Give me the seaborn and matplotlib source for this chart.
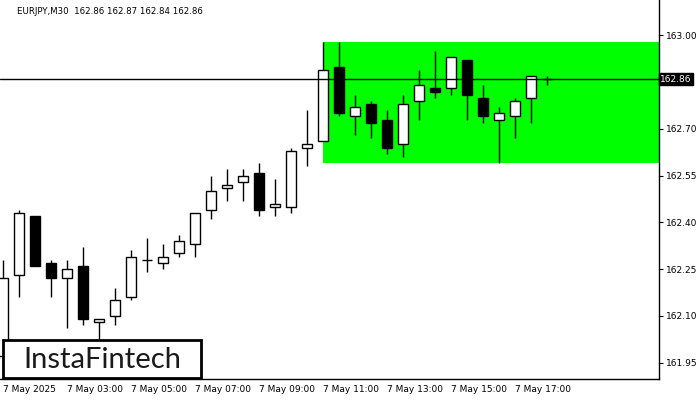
import matplotlib
matplotlib.use("Agg")
import matplotlib.pyplot as plt
from matplotlib.patches import Rectangle
import seaborn as sns
import pandas as pd

# Kerzen EURJPY M30
opens = [161.97, 162.23, 162.42, 162.27, 162.22, 162.26, 162.08, 162.10, 162.16, 162.28,
         162.27, 162.30, 162.33, 162.44, 162.51, 162.53, 162.56, 162.45, 162.45, 162.64,
         162.66, 162.90, 162.74, 162.78, 162.73, 162.65, 162.79, 162.83, 162.83, 162.92,
         162.80, 162.73, 162.74, 162.80, 162.86]
highs = [162.28, 162.44, 162.42, 162.28, 162.28, 162.32, 162.09, 162.19, 162.31, 162.35,
         162.33, 162.36, 162.43, 162.55, 162.57, 162.57, 162.59, 162.54, 162.64, 162.76,
         162.98, 162.98, 162.81, 162.79, 162.76, 162.81, 162.89, 162.95, 162.93, 162.92,
         162.84, 162.77, 162.80, 162.87, 162.87]
lows = [161.94, 162.16, 162.26, 162.16, 162.06, 162.07, 162.00, 162.07, 162.15, 162.24,
        162.25, 162.29, 162.29, 162.41, 162.47, 162.47, 162.42, 162.42, 162.43, 162.58,
        162.66, 162.74, 162.68, 162.67, 162.62, 162.61, 162.73, 162.80, 162.81, 162.73,
        162.72, 162.59, 162.67, 162.72, 162.84]
closes = [162.22, 162.43, 162.26, 162.22, 162.25, 162.09, 162.09, 162.15, 162.29, 162.28,
          162.29, 162.34, 162.43, 162.50, 162.52, 162.55, 162.44, 162.46, 162.63, 162.65,
          162.89, 162.75, 162.77, 162.72, 162.64, 162.78, 162.84, 162.82, 162.93, 162.81,
          162.74, 162.75, 162.79, 162.87, 162.86]

xtick_pos = [0, 4, 8, 12, 16, 20, 24, 28, 32]
xtick_labels = ["7 May 2025", "7 May 03:00", "7 May 05:00", "7 May 07:00", "7 May 09:00",
                "7 May 11:00", "7 May 13:00", "7 May 15:00", "7 May 17:00"]
ytick_vals = [161.95, 162.10, 162.25, 162.40, 162.55, 162.70, 162.85, 163.00]

zone_start = 20
zone_top = 162.98
zone_bottom = 162.59
last_price = 162.86

df = pd.DataFrame({"o": opens, "h": highs, "l": lows, "c": closes})
df["x"] = range(len(df))
df["bull"] = df["c"] >= df["o"]

sns.set_style("white")
plt.rcParams["font.family"] = ["DejaVu Sans"]

fig = plt.figure(figsize=(7, 4), dpi=100)
ax = fig.add_axes([0, 21 / 400, 659 / 700, 379 / 400])

x_left, x_right = -3 / 16, 656 / 16
ax.set_xlim(x_left, x_right)
ax.set_ylim(163 - 344 / 311.9, 163 + 35.5 / 311.9)

# Rechteck-Muster
ax.add_patch(Rectangle((zone_start, zone_bottom), x_right - zone_start, zone_top - zone_bottom,
                       facecolor="#00ff00", edgecolor="none", zorder=1))

# Dochte und Körper
ax.vlines(df["x"], df["l"], df["h"], color="black", lw=1, zorder=2)
body_lo = df[["o", "c"]].min(axis=1)
body_hi = df[["o", "c"]].max(axis=1)
colors = ["white" if b else "black" for b in df["bull"]]
ax.bar(df["x"], body_hi - body_lo, bottom=body_lo, width=0.62, color=colors,
       edgecolor="black", linewidth=1, zorder=3)

# aktuelle Preislinie
ax.axhline(last_price, color="black", lw=1, zorder=4)

for s in ["top", "left"]:
    ax.spines[s].set_visible(False)
for s in ["right", "bottom"]:
    ax.spines[s].set_color("black")
    ax.spines[s].set_linewidth(1)

ax.yaxis.tick_right()
ax.set_yticks(ytick_vals)
# 162.85 liegt unter dem Preisschild
ax.set_yticklabels(["" if abs(v - 162.85) < 1e-9 else f"{v:.2f}" for v in ytick_vals])
ax.set_xticks(xtick_pos)
ax.set_xticklabels(xtick_labels, ha="left")
ax.tick_params(axis="both", direction="out", length=3, width=0.8, colors="black",
               labelsize=6.5, pad=2)
ax.tick_params(axis="x", pad=1)

ax.text(1.002, last_price, f"{last_price:.2f}", transform=ax.get_yaxis_transform(),
        ha="left", va="center", fontsize=6.5, color="white", zorder=10, clip_on=False,
        bbox=dict(boxstyle="square,pad=0.15", facecolor="black", edgecolor="black"))

fig.text(17 / 700, 1 - 11 / 400, "EURJPY,M30  162.86 162.87 162.84 162.86",
         fontsize=6.2, color="black", va="center", ha="left")

# Logo
fig.patches.append(Rectangle((3 / 700, 1 - 378 / 400), 198 / 700, 38 / 400,
                             transform=fig.transFigure, facecolor="white",
                             edgecolor="black", linewidth=2, zorder=20))
fig.text(102 / 700, 1 - 360 / 400, "InstaFintech", fontsize=21, family="Lato",
         color="#1a1a1a", ha="center", va="center", zorder=21)

fig.savefig("out.png", dpi=100)
